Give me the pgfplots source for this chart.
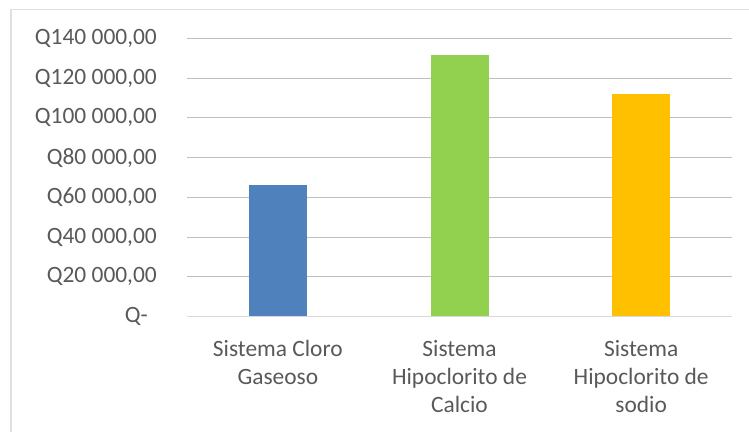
\documentclass[border=0pt]{standalone}
\usepackage{pgfplots}
\pgfplotsset{compat=1.18}
\usepackage{fontspec}
\setmainfont{Carlito}

\definecolor{txt}{HTML}{595959}
\definecolor{grid}{HTML}{D9D9D9}
\definecolor{frame}{HTML}{E0E0E0}
\definecolor{cloro}{HTML}{4F81BD}
\definecolor{calcio}{HTML}{92D050}
\definecolor{sodio}{HTML}{FFC000}

\begin{document}
\begin{tikzpicture}[x=1bp,y=1bp]
  \path[use as bounding box] (0,0) rectangle (749,432);
  \draw[frame, line width=1.2bp] (11,0) -- (11,422.5) -- (749,422.5);
  \begin{axis}[
    at={(187bp,115.3bp)}, anchor=south west,
    scale only axis, width=545bp, height=278.4bp,
    xmin=-0.5, xmax=2.5, ymin=0, ymax=140000,
    axis line style={draw=none},
    ymajorgrids, xmajorgrids=false,
    grid style={grid, line width=1bp},
    major tick length=0pt,
    xtick style={draw=none}, ytick style={draw=none},
    ybar, bar width=58bp,
    xtick={0,1,2},
    xticklabels={{\strut Sistema Cloro\\Gaseoso},
                 {\strut Sistema\\Hipoclorito de\\Calcio},
                 {\strut Sistema\\Hipoclorito de\\sodio}},
    ytick={0,20000,40000,60000,80000,100000,120000,140000},
    yticklabels={{Q-\hspace*{9bp}},{Q20 000,00},{Q40 000,00},{Q60 000,00},
                 {Q80 000,00},{Q100 000,00},{Q120 000,00},{Q140 000,00}},
    tick label style={font=\fontsize{23.5}{28}\selectfont, text=txt, inner sep=0pt},
    yticklabel style={anchor=east, xshift=-30bp},
    xticklabel style={anchor=north, align=center, yshift=-20bp},
    scaled y ticks=false,
    clip=false,
  ]
    \addplot[fill=cloro, draw=none, bar shift=0pt] coordinates {(0,66200)};
    \addplot[fill=calcio, draw=none, bar shift=0pt] coordinates {(1,131500)};
    \addplot[fill=sodio, draw=none, bar shift=0pt] coordinates {(2,112000)};
    \draw[grid, line width=1.2bp] (axis cs:-0.5,0) -- (axis cs:2.5,0);
  \end{axis}
\end{tikzpicture}
\end{document}
